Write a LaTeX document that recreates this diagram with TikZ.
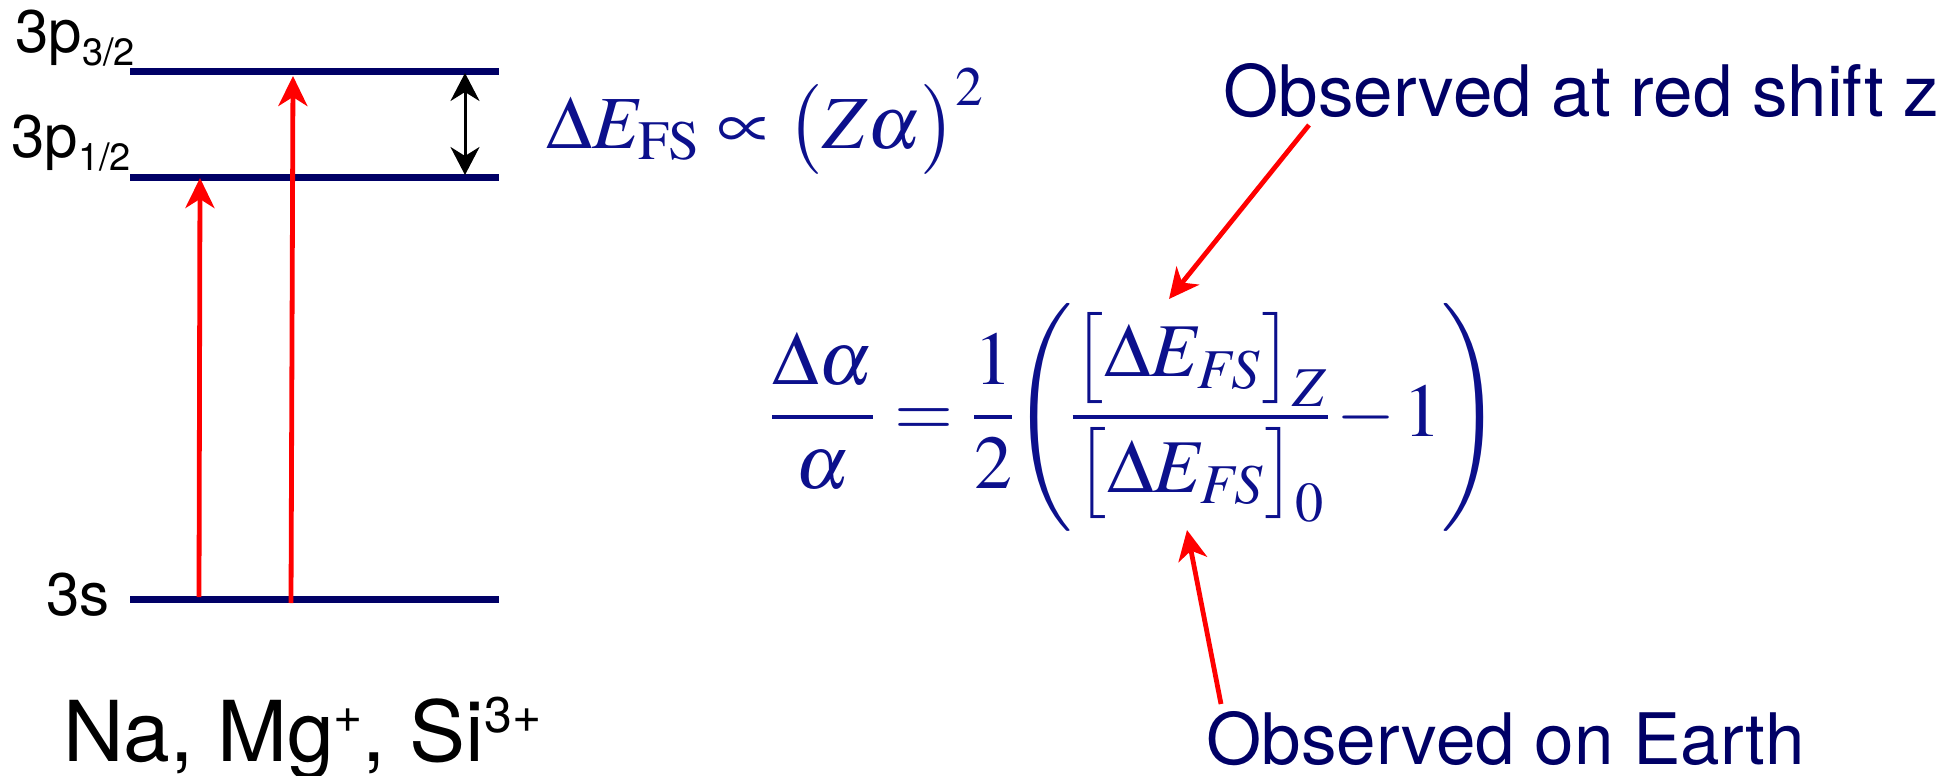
\documentclass[tikz,border=0pt]{standalone}
\usepackage{mathptmx}
\usepackage[no-math]{fontspec}
\setmainfont{TeX Gyre Heros}
\usetikzlibrary{arrows.meta}
\definecolor{navy}{RGB}{0,0,102}
\definecolor{fblue}{RGB}{12,16,140}
\newcommand{\lvsub}[1]{\raisebox{-6.5pt}{\fontsize{19}{19}\selectfont #1}}
\newcommand{\ionsup}[1]{\raisebox{14.5pt}{\fontsize{25}{25}\selectfont #1}}
\begin{document}
\begin{tikzpicture}[x=0.5pt,y=-0.5pt,
  level/.style={line width=3.5pt, draw=navy},
  lvlabel/.style={anchor=base west, inner sep=0pt, font=\fontsize{30}{30}\selectfont},
  ionlabel/.style={anchor=base west, inner sep=0pt, font=\fontsize{42}{42}\selectfont},
  redarrow/.style={draw=red, line width=2.4pt, -{Stealth[length=15pt,width=14.5pt,inset=4.5pt]}},
  gaparrow/.style={draw=black, line width=1.5pt, {Stealth[length=14pt,width=14.5pt,inset=4.5pt]}-{Stealth[length=14pt,width=14.5pt,inset=4.5pt]}},
  obs/.style={anchor=base west, inner sep=0pt, text=navy, font=\fontsize{35.5}{36}\selectfont},
  formula/.style={inner sep=0pt, text=fblue}]
\useasboundingbox (0,0) rectangle (1956,776);

% energy levels
\coordinate (p32L) at (130,71);  \coordinate (p32R) at (499,71);
\coordinate (p12L) at (130,177); \coordinate (p12R) at (499,177);
\coordinate (s3L)  at (130,599); \coordinate (s3R)  at (499,599);
\draw[level] (p32L) -- (p32R);
\draw[level] (p12L) -- (p12R);
\draw[level] (s3L) -- (s3R);

% level labels
\node[lvlabel] (lp32) at (15,52) {3p\lvsub{3/2}};
\node[lvlabel] (lp12) at (11,157) {3p\lvsub{1/2}};
\node[lvlabel] (ls) at (46,615) {3s};
\node[ionlabel] (ions) at (63,761) {Na, Mg\ionsup{+}, Si\ionsup{3+}};

% transitions
\coordinate (t1a) at (199,597); \coordinate (t1b) at (200,178);
\coordinate (t2a) at (291,603); \coordinate (t2b) at (293,76);
\draw[redarrow] (t1a) -- (t1b);
\draw[redarrow] (t2a) -- (t2b);

% fine structure splitting
\coordinate (g1) at (465,73); \coordinate (g2) at (465,175);
\draw[gaparrow] (g1) -- (g2);

% formulas
\node[formula, anchor=base west] (dfs) at (546,148)
  {\fontsize{37.5}{40}\selectfont $\Delta E_{\mathrm{FS}} \propto \bigl(Z\alpha\bigr)^{2}$};
\node[formula, anchor=west] (dalpha) at (772,417)
  {\fontsize{38}{40}\selectfont \thickmuskip=5mu \medmuskip=2mu \nulldelimiterspace=0pt
   $\displaystyle \frac{\Delta\alpha}{\alpha} = \frac{1}{2}\!\left(\frac{\bigl[\Delta E_{\mathit{FS}}\bigr]_{Z}}{\bigl[\Delta E_{\mathit{FS}}\bigr]_{0}} - 1\right)$};

% annotations
\node[obs] (obsz) at (1223,116) {Observed at red shift z};
\node[obs] (obse) at (1206,764) {Observed on Earth};
\coordinate (zs) at (1309,125); \coordinate (zt) at (1169,299);
\coordinate (es) at (1221,704); \coordinate (et) at (1187,530);
\draw[redarrow] (zs) -- (zt);
\draw[redarrow] (es) -- (et);
\end{tikzpicture}
\end{document}
